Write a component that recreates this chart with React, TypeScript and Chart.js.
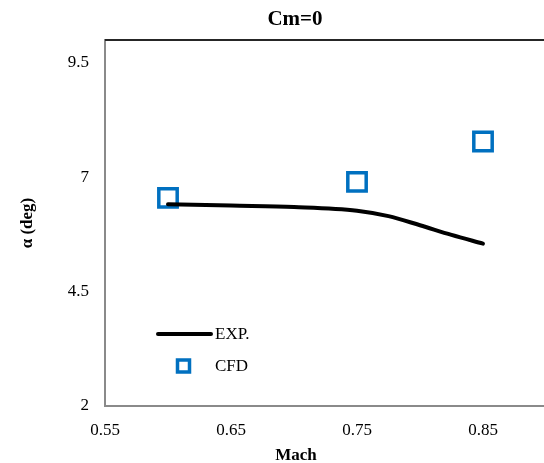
import React, { useEffect, useRef } from "react";
import { Chart, registerables } from "chart.js";

Chart.register(...registerables);

// ---- data ----
const expMach = [0.6, 0.65, 0.7, 0.75, 0.775, 0.8, 0.825, 0.85];
const expAlpha = [6.41, 6.38, 6.35, 6.27, 6.15, 5.95, 5.74, 5.55];
const cfdMach = [0.6, 0.75, 0.85];
const cfdAlpha = [6.55, 6.9, 7.78];
const xTicks = [0.55, 0.65, 0.75, 0.85];
const yTicks = [2, 4.5, 7, 9.5];
const titleText = "Cm=0";
const xTitle = "Mach";
const yTitle = "α (deg)";
const legendLabels = ["EXP.", "CFD"];

const FONT = "'Liberation Serif', 'Times New Roman', serif";
const CW = 590;
const CH = 470;

const overlayPlugin = {
  id: "overlayPlugin",
  afterDraw(chart: any) {
    const { ctx, chartArea } = chart;
    const { left, right, top, bottom } = chartArea;
    ctx.save();
    // top border of plot area
    ctx.strokeStyle = "#262626";
    ctx.lineWidth = 2;
    ctx.beginPath();
    ctx.moveTo(left, top);
    ctx.lineTo(right, top);
    ctx.stroke();

    // x-axis title, centred on the visible figure width
    ctx.fillStyle = "#000";
    ctx.font = `bold 17px ${FONT}`;
    ctx.textAlign = "center";
    ctx.textBaseline = "middle";
    ctx.fillText(xTitle, 296, bottom + 50);

    // legend inside plot area
    const ds0 = chart.data.datasets[0];
    const ds1 = chart.data.datasets[1];
    const lx0 = left + 53;
    const lx1 = left + 106;
    const ly0 = bottom - 72;
    ctx.strokeStyle = ds0.borderColor;
    ctx.lineWidth = 4;
    ctx.lineCap = "round";
    ctx.beginPath();
    ctx.moveTo(lx0, ly0);
    ctx.lineTo(lx1, ly0);
    ctx.stroke();

    const ly1 = bottom - 40;
    const sq = 12;
    const sqx = left + 78.5;
    ctx.strokeStyle = ds1.pointBorderColor;
    ctx.lineWidth = 3.5;
    ctx.lineCap = "butt";
    ctx.strokeRect(sqx - sq / 2, ly1 - sq / 2, sq, sq);

    ctx.fillStyle = "#000";
    ctx.font = `17px ${FONT}`;
    ctx.textBaseline = "middle";
    ctx.textAlign = "left";
    ctx.fillText(legendLabels[0], left + 110, ly0 + 1);
    ctx.fillText(legendLabels[1], left + 110, ly1 + 1);
    ctx.restore();
  },
};

export default function App() {
  const ref = useRef<HTMLCanvasElement | null>(null);

  useEffect(() => {
    if (!ref.current) return;
    const chart = new Chart(ref.current, {
      type: "line",
      data: {
        datasets: [
          {
            label: legendLabels[0],
            data: expMach.map((x, i) => ({ x, y: expAlpha[i] })),
            borderColor: "#000000",
            backgroundColor: "#000000",
            borderWidth: 4,
            pointRadius: 0,
            tension: 0.4,
            cubicInterpolationMode: "monotone",
            borderCapStyle: "round",
            fill: false,
          },
          {
            label: legendLabels[1],
            data: cfdMach.map((x, i) => ({ x, y: cfdAlpha[i] })),
            showLine: false,
            pointStyle: "rect",
            pointRadius: 13,
            pointBorderWidth: 3.5,
            pointBorderColor: "#0070C0",
            pointBackgroundColor: "rgba(255,255,255,0)",
            borderColor: "#0070C0",
            backgroundColor: "rgba(255,255,255,0)",
          },
        ],
      },
      options: {
        responsive: false,
        animation: false,
        devicePixelRatio: 1,
        layout: { padding: 0, autoPadding: false },
        plugins: {
          legend: { display: false },
          tooltip: { enabled: false },
          title: {
            display: true,
            text: titleText,
            color: "#000",
            font: { family: FONT, size: 21, weight: "bold" },
            padding: { top: 7, bottom: 7.8 },
          },
        },
        scales: {
          x: {
            type: "linear",
            bounds: "data",
            min: 0.55,
            max: 0.55 + (CW - 105) / 1260,
            grid: { display: false, drawTicks: false },
            border: { display: true, color: "#8a8a8a", width: 2 },
            afterBuildTicks: (s: any) => {
              s.ticks = xTicks.map((v) => ({ value: v }));
            },
            afterFit: (s: any) => {
              s.height = CH - 406;
              s.paddingLeft = 0;
              s.paddingRight = 0;
            },
            ticks: {
              color: "#000",
              font: { family: FONT, size: 17 },
              padding: 14,
              maxRotation: 0,
              callback: (v: any) => Number(v).toFixed(2),
            },
            title: { display: false, text: xTitle },
          },
          y: {
            type: "linear",
            bounds: "data",
            min: 2,
            max: 10,
            grid: { display: false, drawTicks: false },
            border: { display: true, color: "#8a8a8a", width: 2 },
            afterBuildTicks: (s: any) => {
              s.ticks = yTicks.map((v) => ({ value: v }));
            },
            afterFit: (s: any) => {
              s.width = 105;
              s.paddingTop = 0;
              s.paddingBottom = 0;
            },
            ticks: {
              color: "#000",
              font: { family: FONT, size: 17 },
              padding: 16,
              callback: (v: any) => String(v),
            },
            title: {
              display: true,
              text: yTitle,
              color: "#000",
              font: { family: FONT, size: 17, weight: "bold" },
              padding: { top: 17, bottom: 0 },
            },
          },
        },
      },
      plugins: [overlayPlugin],
    } as any);
    return () => chart.destroy();
  }, []);

  return (
    <div
      style={{
        position: "fixed",
        left: 0,
        top: 0,
        width: 544,
        height: 463,
        overflow: "hidden",
        background: "#fff",
      }}
    >
      <canvas ref={ref} width={CW} height={CH} style={{ display: "block" }} />
    </div>
  );
}
